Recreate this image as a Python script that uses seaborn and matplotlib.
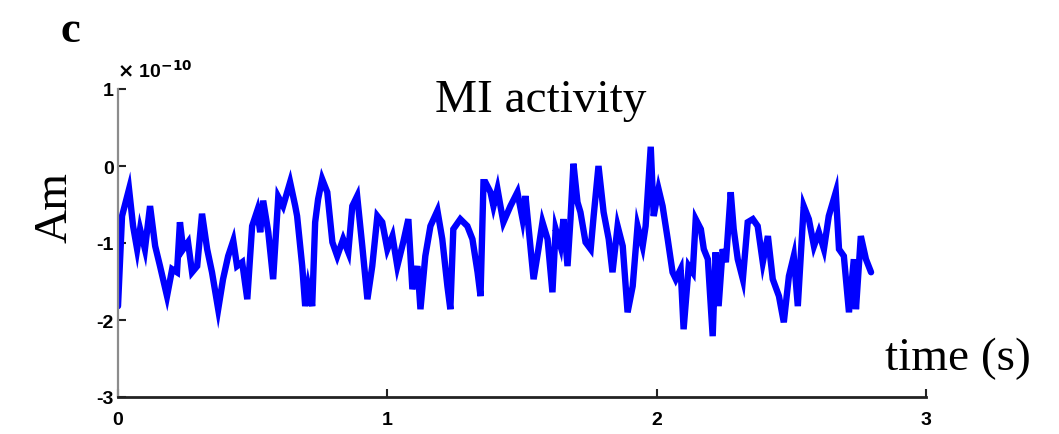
import numpy as np
import pandas as pd
import matplotlib
matplotlib.use("Agg")
import matplotlib.pyplot as plt
import seaborn as sns

# time in seconds
time_s = [0.000, 0.015, 0.041, 0.056, 0.071, 0.082, 0.100, 0.119, 0.138, 0.156,
          0.182, 0.201, 0.219, 0.230, 0.242, 0.260, 0.275, 0.294, 0.312, 0.331,
          0.349, 0.372, 0.390, 0.409, 0.428, 0.442, 0.461, 0.480, 0.498, 0.517,
          0.528, 0.539, 0.558, 0.576, 0.595, 0.613, 0.639, 0.658, 0.665, 0.684,
          0.695, 0.706, 0.721, 0.732, 0.743, 0.758, 0.777, 0.796, 0.814, 0.836,
          0.855, 0.870, 0.888, 0.907, 0.926, 0.944, 0.963, 0.981, 1.000, 1.019,
          1.037, 1.059, 1.078, 1.093, 1.112, 1.123, 1.141, 1.160, 1.186, 1.204,
          1.223, 1.234, 1.245, 1.271, 1.297, 1.316, 1.335, 1.346, 1.357, 1.364,
          1.383, 1.394, 1.409, 1.420, 1.431, 1.457, 1.483, 1.502, 1.513, 1.532,
          1.543, 1.561, 1.576, 1.595, 1.613, 1.625, 1.643, 1.654, 1.669, 1.680,
          1.691, 1.706, 1.717, 1.736, 1.755, 1.766, 1.784, 1.803, 1.822, 1.836,
          1.855, 1.874, 1.892, 1.911, 1.929, 1.948, 1.959, 1.978, 1.989, 2.007,
          2.022, 2.041, 2.059, 2.071, 2.089, 2.100, 2.119, 2.134, 2.145, 2.164,
          2.175, 2.190, 2.208, 2.219, 2.230, 2.245, 2.257, 2.275, 2.286, 2.301,
          2.320, 2.338, 2.357, 2.375, 2.394, 2.413, 2.431, 2.454, 2.472, 2.491,
          2.509, 2.524, 2.535, 2.546, 2.565, 2.584, 2.602, 2.621, 2.639, 2.665,
          2.677, 2.695, 2.714, 2.732, 2.740, 2.758, 2.777, 2.796]

# MI activity in units of 1e-10 Am
activity = [-1.82, -0.65, -0.30, -0.78, -1.08, -0.82, -1.08, -0.52, -1.04, -1.30,
            -1.69, -1.34, -1.38, -0.73, -1.08, -0.99, -1.38, -1.30, -0.62, -1.08,
            -1.38, -1.86, -1.47, -1.17, -0.97, -1.30, -1.25, -1.73, -0.78, -0.58,
            -0.86, -0.45, -0.86, -1.47, -0.40, -0.52, -0.21, -0.52, -0.65, -1.30,
            -1.82, -1.56, -1.82, -0.73, -0.43, -0.17, -0.34, -0.99, -1.17, -0.95,
            -1.12, -0.52, -0.39, -1.04, -1.73, -1.30, -0.65, -0.73, -1.08, -0.91,
            -1.30, -0.99, -0.69, -1.60, -1.30, -1.86, -1.17, -0.78, -0.58, -0.95,
            -1.56, -1.86, -0.82, -0.69, -0.78, -0.95, -1.38, -1.69, -0.21, -0.21,
            -0.34, -0.52, -0.30, -0.52, -0.73, -0.52, -0.34, -0.69, -0.39, -1.08,
            -1.47, -1.08, -0.73, -0.95, -1.64, -0.82, -1.04, -0.69, -1.30, -0.69,
            0.03, -0.47, -0.60, -0.99, -1.08, -0.65, 0.00, -0.60, -0.95, -1.38,
            -0.78, -1.04, -1.90, -1.56, -0.78, -1.04, -0.78, 0.25, -0.65, -0.30,
            -0.52, -0.95, -1.38, -1.47, -1.34, -2.12, -1.30, -1.38, -0.69, -0.82,
            -1.08, -1.21, -2.21, -1.12, -1.82, -1.08, -1.25, -0.34, -0.82, -1.21,
            -1.47, -0.73, -0.69, -0.78, -1.25, -0.91, -1.47, -1.69, -2.03, -1.43,
            -1.17, -1.82, -1.17, -0.52, -0.69, -1.04, -0.86, -1.08, -0.65, -0.34,
            -1.08, -1.17, -1.90, -1.21, -1.86, -0.91, -1.21, -1.38]

x_ticks = [0, 1, 2, 3]
y_ticks = [-3, -2, -1, 0, 1]

sns.set_style("white")
plt.rcParams['font.family'] = ['Liberation Sans', 'DejaVu Sans']
plt.rcParams['text.color'] = 'black'

df = pd.DataFrame({"time": time_s, "Am": activity})

fig = plt.figure(figsize=(10.59, 4.35), dpi=100)
ax = fig.add_axes([118 / 1059, 1 - 398 / 435, (926 - 118) / 1059, (398 - 90) / 435])

sns.lineplot(data=df, x="time", y="Am", ax=ax, color="#0000ff", linewidth=4.6,
             estimator=None, sort=False)
for ln in ax.get_lines():
    ln.set_solid_joinstyle('miter')

ax.set_xlim(0, 3)
ax.set_ylim(-3, 1)
ax.set_xticks(x_ticks)
ax.set_yticks(y_ticks)
ax.set_xticklabels([str(v) for v in x_ticks], fontsize=14, fontweight='bold')
ax.set_yticklabels([str(v) for v in y_ticks], fontsize=14, fontweight='bold')
ax.set_xlabel("")
ax.set_ylabel("")

for s in ["top", "right"]:
    ax.spines[s].set_visible(False)
ax.spines["left"].set_color("#8c8c8c")
ax.spines["left"].set_linewidth(1.6)
ax.spines["bottom"].set_color("#222222")
ax.spines["bottom"].set_linewidth(2.0)
ax.tick_params(axis='x', bottom=True, direction='in', length=6, width=1.5, pad=10,
               color='#222222', labelcolor='black')
ax.tick_params(axis='y', left=True, direction='in', length=6, width=1.5, pad=3,
               color='#222222', labelcolor='black')

serif = ['Liberation Serif', 'DejaVu Serif']
fig.text(541 / 1059, 1 - 112 / 435, "MI activity", family=serif, fontsize=34,
         ha='center', va='baseline', color='black')
fig.text(958 / 1059, 1 - 370 / 435, "time (s)", family=serif, fontsize=34,
         ha='center', va='baseline', color='black')
fig.text(55 / 1059, 1 - 208 / 435, "Am", family=serif, fontsize=34,
         ha='center', va='center', rotation=90, color='black')
fig.text(60 / 1059, 1 - 42 / 435, "c", family=serif, fontsize=32,
         fontweight='bold', ha='left', va='baseline', color='black')
fig.text(117 / 1059, 1 - 78 / 435, r"$\mathbf{\times}$ 10$^{\mathbf{-10}}$", fontsize=14,
         fontweight='bold', ha='left', va='baseline', color='black')

fig.savefig("out.png", dpi=100)
